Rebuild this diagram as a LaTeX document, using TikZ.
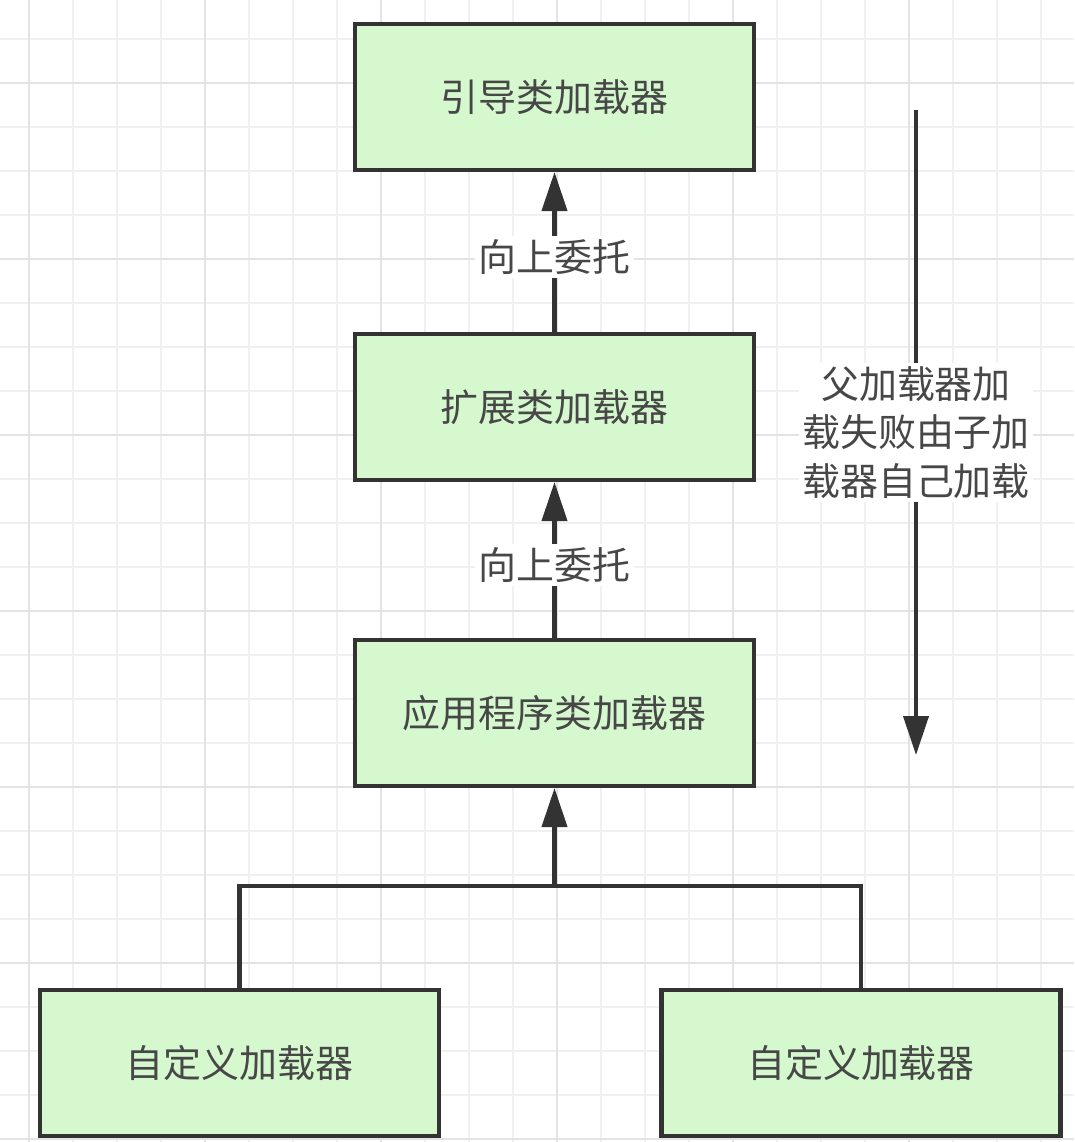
\documentclass[tikz,border=0pt]{standalone}
\usepackage{fontspec}
\newfontfamily\cjk{Noto Sans CJK SC}
\usetikzlibrary{arrows.meta}
\definecolor{boxfill}{HTML}{D5F8CE}
\definecolor{ink}{HTML}{333333}
\definecolor{gridminor}{HTML}{F0F0F0}
\definecolor{gridmajor}{HTML}{E3E3E3}
\begin{document}
\begin{tikzpicture}[
    loader/.style={draw=ink, fill=boxfill, line width=2.3pt, minimum width=7.98cm, minimum height=2.92cm, text=ink!90},
    lbl/.style={fill=white, inner sep=2pt, text=ink!90},
    flow/.style={draw=ink, line width=2.3pt, -{Triangle[length=0.78cm, width=0.5cm]}},
    conn/.style={draw=ink, line width=2.3pt},
    gridline/.style={gridminor, line width=1.1pt},
    gridbold/.style={gridmajor, line width=1.1pt},
    font=\cjk\fontsize{21.6}{27.8}\selectfont
  ]
  \useasboundingbox[fill=white] (0,0) rectangle (21.48,-22.84);

  % background grid
  \foreach \k in {0,...,23}
    \draw[gridline] ({0.58+0.88*\k},0) -- ++(0,-22.84);
  \foreach \k in {0,...,25}
    \draw[gridline] (0,{-0.78-0.88*\k}) -- ++(21.48,0);
  \foreach \k in {0,4,...,20}
    \draw[gridbold] ({0.58+0.88*\k},0) -- ++(0,-22.84);
  \foreach \k in {1,5,...,25}
    \draw[gridbold] (0,{-0.78-0.88*\k}) -- ++(21.48,0);

  \node[loader] (boot) at (11.09, -1.94) {引导类加载器};
  \node[loader] (ext) at (11.09, -8.14) {扩展类加载器};
  \node[loader] (app) at (11.09, -14.26) {应用程序类加载器};
  \node[loader] (custa) at (4.79, -21.26) {自定义加载器};
  \node[loader] (custb) at (17.22, -21.26) {自定义加载器};

  \draw[flow] (ext.north) -- node[lbl, pos=0.47] {向上委托} (boot.south);
  \draw[flow] (app.north) -- node[lbl, pos=0.47] {向上委托} (ext.south);

  \coordinate (join) at (11.09, -17.72);
  \draw[conn] (custa.north) |- (join) -| (custb.north);
  \draw[flow] (join) -- (app.south);

  \coordinate (fstart) at (18.32, -2.2);
  \coordinate (fend) at (18.32, -15.1);
  \draw[flow] (fstart) -- node[lbl, align=center] {父加载器加\\载失败由子加\\载器自己加载} (fend);
\end{tikzpicture}
\end{document}
